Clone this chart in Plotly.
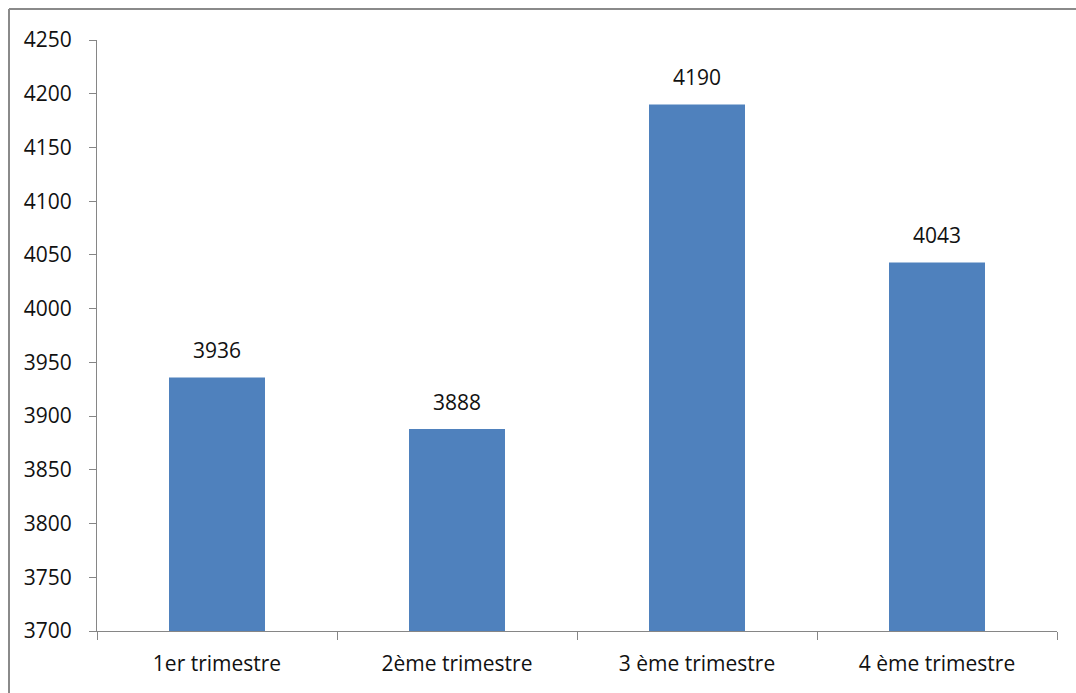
import plotly.graph_objects as go

categories = ["1er trimestre", "2ème trimestre", "3 ème trimestre", "4 ème trimestre"]
values = [3936, 3888, 4190, 4043]
y_ticks = list(range(3700, 4251, 50))

L, R, T, B = 97, 19, 40, 62
W, H = 1076, 693
pw, ph = W - L - R, H - T - B
FONT = "Open Sans"
TXT = "#111111"

fig = go.Figure(go.Bar(
    x=categories, y=values, width=0.4,
    marker=dict(color="#4f81bd", line=dict(width=0)),
))

annotations = [
    dict(x=c, y=v, xref="x", yref="y", text=str(v), showarrow=False,
         yshift=27, yanchor="middle",
         font=dict(family=FONT, size=21, color=TXT))
    for c, v in zip(categories, values)
]

fig.update_layout(
    width=W, height=H,
    margin=dict(l=L, r=R, t=T, b=B),
    paper_bgcolor="white", plot_bgcolor="white",
    showlegend=False,
    font=dict(family=FONT, size=21, color=TXT),
    annotations=annotations,
    xaxis=dict(showline=True, linecolor="#868686", linewidth=1,
               ticks="outside", tickson="boundaries", ticklen=8, tickcolor="#868686",
               ticklabelstandoff=14,
               showgrid=False, zeroline=False),
    yaxis=dict(range=[3700, 4250], tickvals=y_ticks, showline=True,
               linecolor="#868686", linewidth=1, ticks="outside", ticklen=7,
               tickcolor="#868686", ticklabelstandoff=13,
               showgrid=False, zeroline=False),
    shapes=[
        dict(type="line", xref="paper", yref="paper",
             x0=(9 - L) / pw, x1=1 + R / pw, y0=(H - B - 9) / ph, y1=(H - B - 9) / ph,
             line=dict(color="#8a8a8a", width=2)),
        dict(type="line", xref="paper", yref="paper",
             x0=(9 - L) / pw, x1=(9 - L) / pw, y0=(H - B - 9) / ph, y1=-B / ph,
             line=dict(color="#8a8a8a", width=2)),
    ],
)

fig.write_html("out.html")
